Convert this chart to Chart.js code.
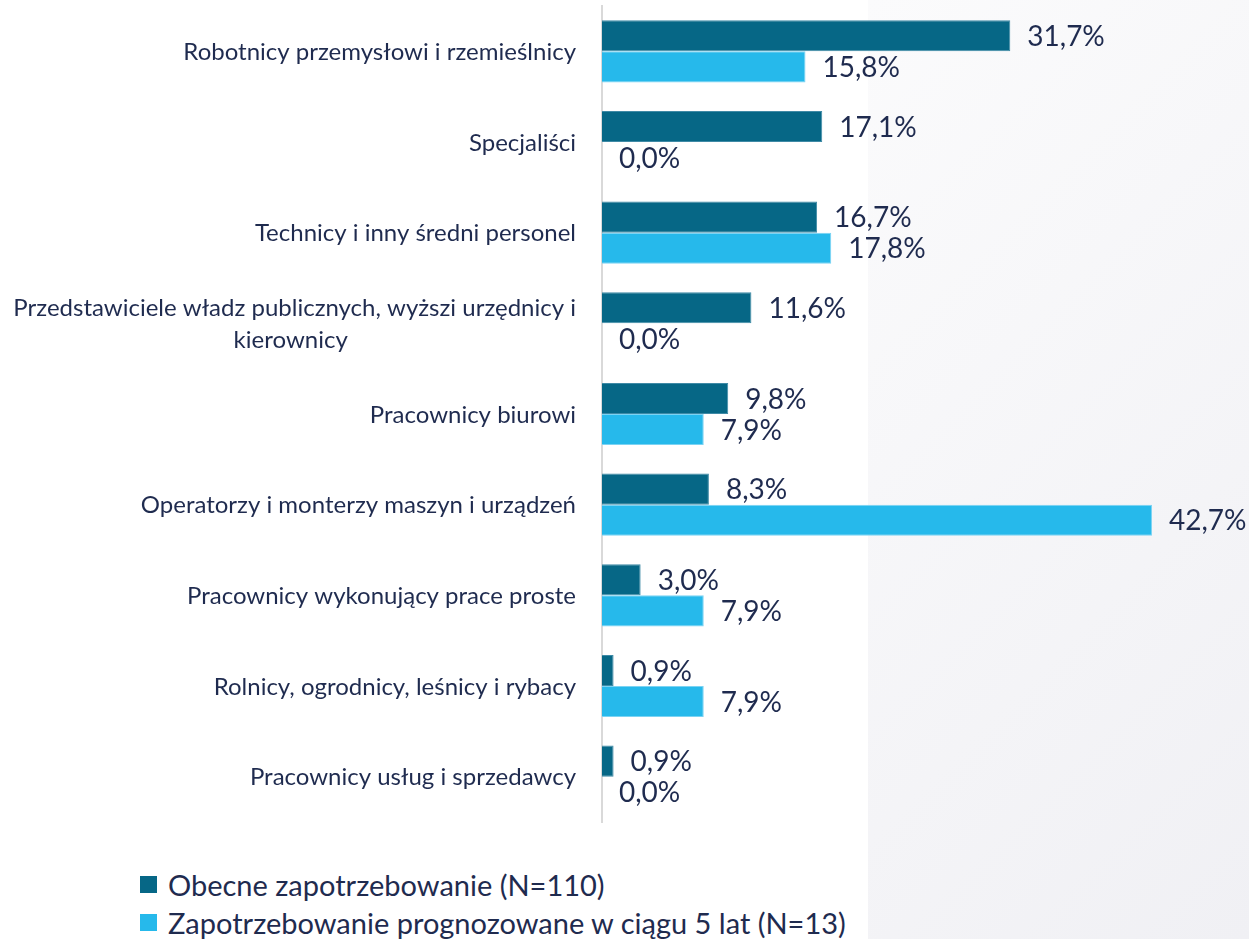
<!DOCTYPE html>
<html lang="pl">
<head>
<meta charset="utf-8">
<title>Zapotrzebowanie na pracowników</title>
<script src="https://cdn.jsdelivr.net/npm/chart.js@4.4.1/dist/chart.umd.min.js"></script>
<style>
  html, body { margin: 0; padding: 0; background: #fff; }
  body { width: 1249px; height: 939px; position: relative; overflow: hidden; font-family: Lato, "Open Sans", sans-serif; }
  #panel { position: absolute; left: 868px; top: 0; width: 381px; height: 939px;
           background: linear-gradient(135deg, #fbfbfc 0%, #f0f0f4 100%); }
  #wrap { position: absolute; left: 0; top: 0; width: 1249px; height: 830px; }
  #legend { position: absolute; left: 140px; top: 865px; list-style: none; margin: 0; padding: 0; }
  #legend li { display: flex; align-items: center; height: 38px; font-size: 29px; color: #1f2b4f; white-space: nowrap; }
  #legend i { display: inline-block; width: 17px; height: 17px; margin-right: 11px; }
</style>
</head>
<body>
<div id="panel"></div>
<div id="wrap"><canvas id="chart"></canvas></div>
<ul id="legend"></ul>
<script>
// dane
const CATEGORIES = [
  ["Robotnicy przemysłowi i rzemieślnicy"],
  ["Specjaliści"],
  ["Technicy i inny średni personel"],
  ["Przedstawiciele władz publicznych, wyższi urzędnicy i", "kierownicy"],
  ["Pracownicy biurowi"],
  ["Operatorzy i monterzy maszyn i urządzeń"],
  ["Pracownicy wykonujący prace proste"],
  ["Rolnicy, ogrodnicy, leśnicy i rybacy"],
  ["Pracownicy usług i sprzedawcy"],
];
const OBECNE = [31.7, 17.1, 16.7, 11.6, 9.8, 8.3, 3.0, 0.9, 0.9];
const PROGNOZA = [15.8, 0.0, 17.8, 0.0, 7.9, 42.7, 7.9, 7.9, 0.0];
const SERIES_NAMES = ["Obecne zapotrzebowanie (N=110)", "Zapotrzebowanie prognozowane w ciągu 5 lat (N=13)"];
const SERIES_COLORS = ["#066786", "#26b9eb"];
const X_MAX = 50;

const TEXT_COLOR = "#1f2b4f";

function fmtPct(v) { return v.toFixed(1).replace(".", ",") + "%"; }

// etykiety wartości przy końcach słupków
const valueLabels = {
  id: "valueLabels",
  afterDatasetsDraw(chart) {
    const ctx = chart.ctx;
    ctx.save();
    ctx.font = "28px Lato, 'Open Sans', sans-serif";
    ctx.fillStyle = TEXT_COLOR;
    ctx.textAlign = "left";
    ctx.textBaseline = "middle";
    chart.data.datasets.forEach((ds, di) => {
      chart.getDatasetMeta(di).data.forEach((bar, i) => {
        ctx.fillText(fmtPct(ds.data[i]), bar.x + 17, bar.y + 1);
      });
    });
    ctx.restore();
  },
};

// etykiety kategorii (wiele linii wyśrodkowanych względem siebie)
const categoryLabels = {
  id: "categoryLabels",
  afterDraw(chart) {
    const ctx = chart.ctx, scale = chart.scales.y;
    const right = scale.right - 26, lineH = 32;
    ctx.save();
    ctx.font = "24px Lato, 'Open Sans', sans-serif";
    ctx.fillStyle = TEXT_COLOR;
    ctx.textAlign = "center";
    ctx.textBaseline = "middle";
    CATEGORIES.forEach((lines, i) => {
      const y = scale.getPixelForValue(i);
      const w = Math.max(...lines.map(l => ctx.measureText(l).width));
      const cx = right - w / 2 - (lines.length > 1 ? 4 : 0);
      const y0 = y - (lines.length - 1) * lineH / 2 + 1;
      lines.forEach((l, k) => ctx.fillText(l, k === 0 ? right - w / 2 : cx, y0 + k * lineH));
    });
    ctx.restore();
  },
};

new Chart(document.getElementById("chart"), {
  type: "bar",
  data: {
    labels: CATEGORIES.map(c => c.join(" ")),
    datasets: [
      { label: SERIES_NAMES[0], data: OBECNE, backgroundColor: SERIES_COLORS[0], borderColor: "#3f8aa6", borderWidth: 1 },
      { label: SERIES_NAMES[1], data: PROGNOZA, backgroundColor: SERIES_COLORS[1], borderColor: "#7bd3f3", borderWidth: 1 },
    ],
  },
  options: {
    indexAxis: "y",
    responsive: true,
    maintainAspectRatio: false,
    animation: false,
    datasets: { bar: { categoryPercentage: 0.685, barPercentage: 1 } },
    layout: { padding: { top: 6, right: 3, bottom: 8, left: 0 } },
    plugins: { legend: { display: false }, tooltip: { enabled: false } },
    scales: {
      x: { display: false, min: 0, max: X_MAX },
      y: {
        grid: { display: false },
        border: { display: true, color: "#d9d9d9", width: 2 },
        ticks: { display: false },
        afterFit(scale) { scale.width = 602; },
      },
    },
  },
  plugins: [valueLabels, categoryLabels],
});

document.getElementById("legend").innerHTML = SERIES_NAMES.map((n, i) =>
  `<li><i style="background:${SERIES_COLORS[i]}"></i>${n}</li>`
).join("");
</script>
</body>
</html>
